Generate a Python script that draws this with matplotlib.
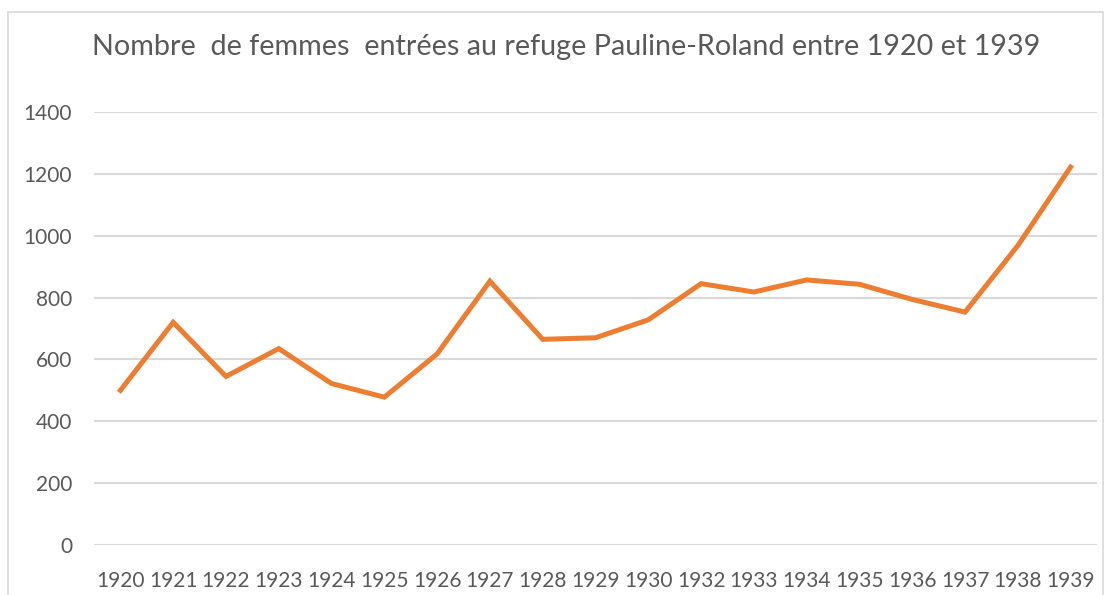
import matplotlib
matplotlib.use("Agg")
import matplotlib.pyplot as plt
from matplotlib.patches import Rectangle

years = ["1920", "1921", "1922", "1923", "1924", "1925", "1926", "1927", "1928", "1929",
         "1930", "1932", "1933", "1934", "1935", "1936", "1937", "1938", "1939"]
values = [500, 720, 545, 635, 522, 478, 618, 853, 665, 670,
          728, 845, 818, 857, 843, 794, 753, 968, 1222]
yticks = [0, 200, 400, 600, 800, 1000, 1200, 1400]
title = "Nombre  de femmes  entrées au refuge Pauline-Roland entre 1920 et 1939"

plt.rcParams['font.family'] = ['Lato', 'DejaVu Sans']
text_color = "#595959"
grid_color = "#D9D9D9"

fig = plt.figure(figsize=(11.09, 5.95), dpi=100)
fig.patch.set_facecolor("white")
fig.patches.append(Rectangle((8/1109, -0.05), (1103-8)/1109, 1.05 - 12/595,
                             transform=fig.transFigure, fill=False,
                             edgecolor=grid_color, linewidth=1.2))

ax = fig.add_axes([94/1109, 50/595, (1097-94)/1109, (545-112)/595])
x = list(range(len(years)))
ax.plot(x, values, color="#ED7D31", linewidth=3.6, solid_joinstyle="miter")
ax.set_xlim(-0.5, len(years) - 0.5)
ax.set_ylim(0, 1400)
ax.set_yticks(yticks)
ax.set_yticklabels([str(v) for v in yticks])
ax.set_xticks(x)
ax.set_xticklabels(years)
ax.grid(axis="y", color=grid_color, linewidth=1.5)
ax.set_axisbelow(True)
for s in ax.spines.values():
    s.set_visible(False)
ax.tick_params(axis="both", length=0, colors=text_color, labelsize=15)
ax.tick_params(axis="y", pad=15.8)
ax.tick_params(axis="x", pad=19)

fig.text(566/1109, 1 - 55/595, title, ha="center", va="baseline",
         fontsize=20.7, color=text_color)

fig.savefig("out.png", dpi=100)
